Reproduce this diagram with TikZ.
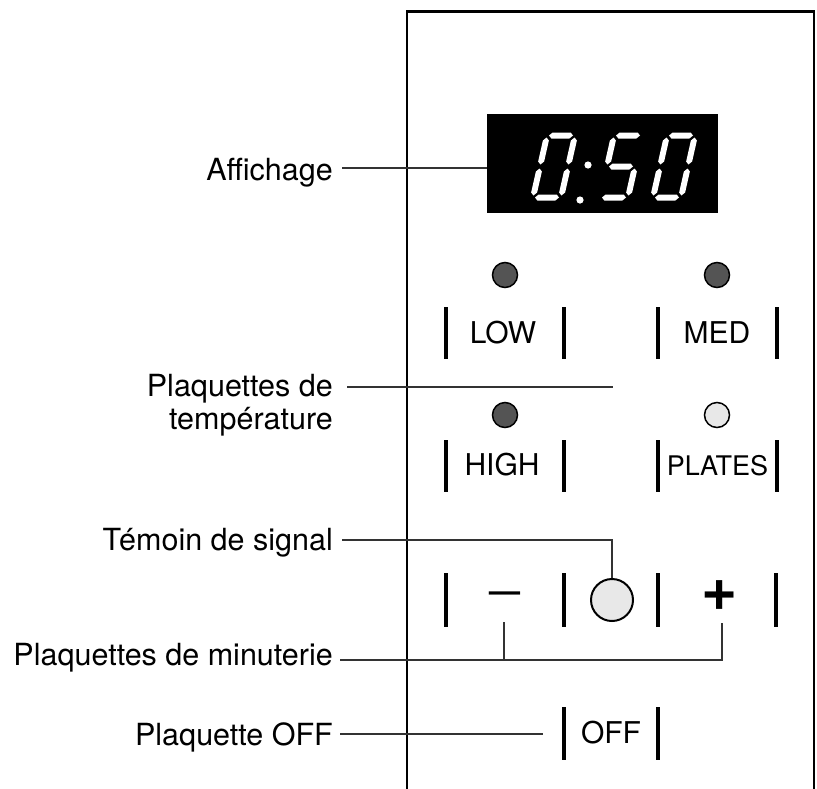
\documentclass[tikz,border=0pt]{standalone}
\usepackage{fontspec}
\setmainfont{TeX Gyre Heros}
\newcommand\hsegm[3]{\fill[white] (#1,#3) -- ++(3,-3) -- (#2-3,#3-3) -- (#2,#3) -- (#2-3,#3+3) -- (#1+3,#3+3) -- cycle;}
\newcommand\vsegm[3]{\fill[white] (#1,#2) -- ++(3,3) -- (#1+3,#3-3) -- (#1,#3) -- (#1-3,#3-3) -- (#1-3,#2+3) -- cycle;}
\newcommand\sgA{\hsegm{2}{26}{-62}}
\newcommand\sgB{\vsegm{28}{-60}{-33}}
\newcommand\sgC{\vsegm{28}{-29}{-2}}
\newcommand\sgD{\hsegm{2}{26}{0}}
\newcommand\sgE{\vsegm{0}{-29}{-2}}
\newcommand\sgF{\vsegm{0}{-60}{-33}}
\newcommand\sgG{\hsegm{2}{26}{-31}}
\begin{document}
\begin{tikzpicture}[x=1pt,y=-1pt,
  lbl/.style={anchor=base east, inner sep=0pt, font=\fontsize{30.5}{36}\selectfont},
  btn/.style={anchor=base, inner sep=0pt, font=\fontsize{30}{34}\selectfont},
  bar/.style={line width=3.8pt},
  leader/.style={line width=1.3pt, draw=black!80},
  led/.style={circle, draw=black, line width=1.5pt, minimum size=25pt, inner sep=0pt},
  panel/.style={line width=2.5pt}]
\useasboundingbox (0,0) rectangle (817,788);
% panel
\draw[panel] (407,790) -- (407,11.5) -- (814,11.5) -- (814,790);
% display
\node[fill=black, minimum width=231pt, minimum height=99pt, inner sep=0pt, anchor=north west] (disp) at (487,114) {};
\begin{scope}[shift={(533,197.5)}, xslant=0.226]
  \sgA \sgB \sgC \sgD \sgE \sgF
\end{scope}
\begin{scope}[shift={(600,197.5)}, xslant=0.226]
  \sgA \sgF \sgG \sgC \sgD
\end{scope}
\begin{scope}[shift={(653,197.5)}, xslant=0.226]
  \sgA \sgB \sgC \sgD \sgE \sgF
\end{scope}
\fill[white] (588,165) circle (3.6) (580,200) circle (3.6);
% LEDs
\node[led, fill=black!67] (ledlow) at (505,275) {};
\node[led, fill=black!67] (ledmed) at (717,275) {};
\node[led, fill=black!67] (ledhigh) at (505,415) {};
\node[led, fill=black!9] (ledplates) at (717,415) {};
% bars
\foreach \x in {446,564,658,777} {
  \draw[bar] (\x,307) -- (\x,359);
  \draw[bar] (\x,440) -- (\x,492);
}
\foreach \x in {446,564,658,776} {
  \draw[bar] (\x,573) -- (\x,627);
}
\foreach \x in {564,658} {
  \draw[bar] (\x,707) -- (\x,760);
}
% button texts
\node[btn] (low) at (503,343) {LOW};
\node[btn] (med) at (717,343) {MED};
\node[btn] (high) at (502,475) {HIGH};
\node[btn, font=\fontsize{27}{32}\selectfont] (plates) at (717.5,475) {PLATES};
\node[btn] (off) at (611,743) {OFF};
\node[inner sep=0pt, font=\fontsize{31}{36}\bfseries\selectfont] (minus) at (504.5,597) {—};
\node[inner sep=0pt, font=\fontsize{62}{66}\bfseries\selectfont, yshift=1pt] (plus) at (720,597) {+};
% signal
\node[circle, draw=black, line width=2pt, fill=black!9, minimum size=42pt, inner sep=0pt] (sig) at (612,600) {};
% labels
\node[lbl] (aff) at (333,180) {Affichage};
\node[lbl] (temp) at (333,396) {Plaquettes de};
\node[lbl] (temp2) at (333,429) {température};
\node[lbl] (sigl) at (333,550) {Témoin de signal};
\node[lbl] (minl) at (333,665) {Plaquettes de minuterie};
\node[lbl] (offl) at (333,745) {Plaquette OFF};
% leader coordinates
\coordinate (affS) at (342,168);
\coordinate (affE) at (487,168);
\coordinate (tempS) at (347,387);
\coordinate (tempE) at (613,387);
\coordinate (sigS) at (342,540);
\coordinate (minS) at (340,660);
\coordinate (minusT) at (504,622);
\coordinate (plusT) at (722,623);
\coordinate (offS) at (340,734);
\coordinate (offE) at (543,734);
% leaders
\draw[leader] (affS) -- (affE);
\draw[leader] (tempS) -- (tempE);
\draw[leader] (sigS) -| (sig.north);
\draw[leader] (minS) -| (plusT);
\draw[leader] (minusT) -- (minusT |- minS);
\draw[leader] (offS) -- (offE);
\end{tikzpicture}
\end{document}
